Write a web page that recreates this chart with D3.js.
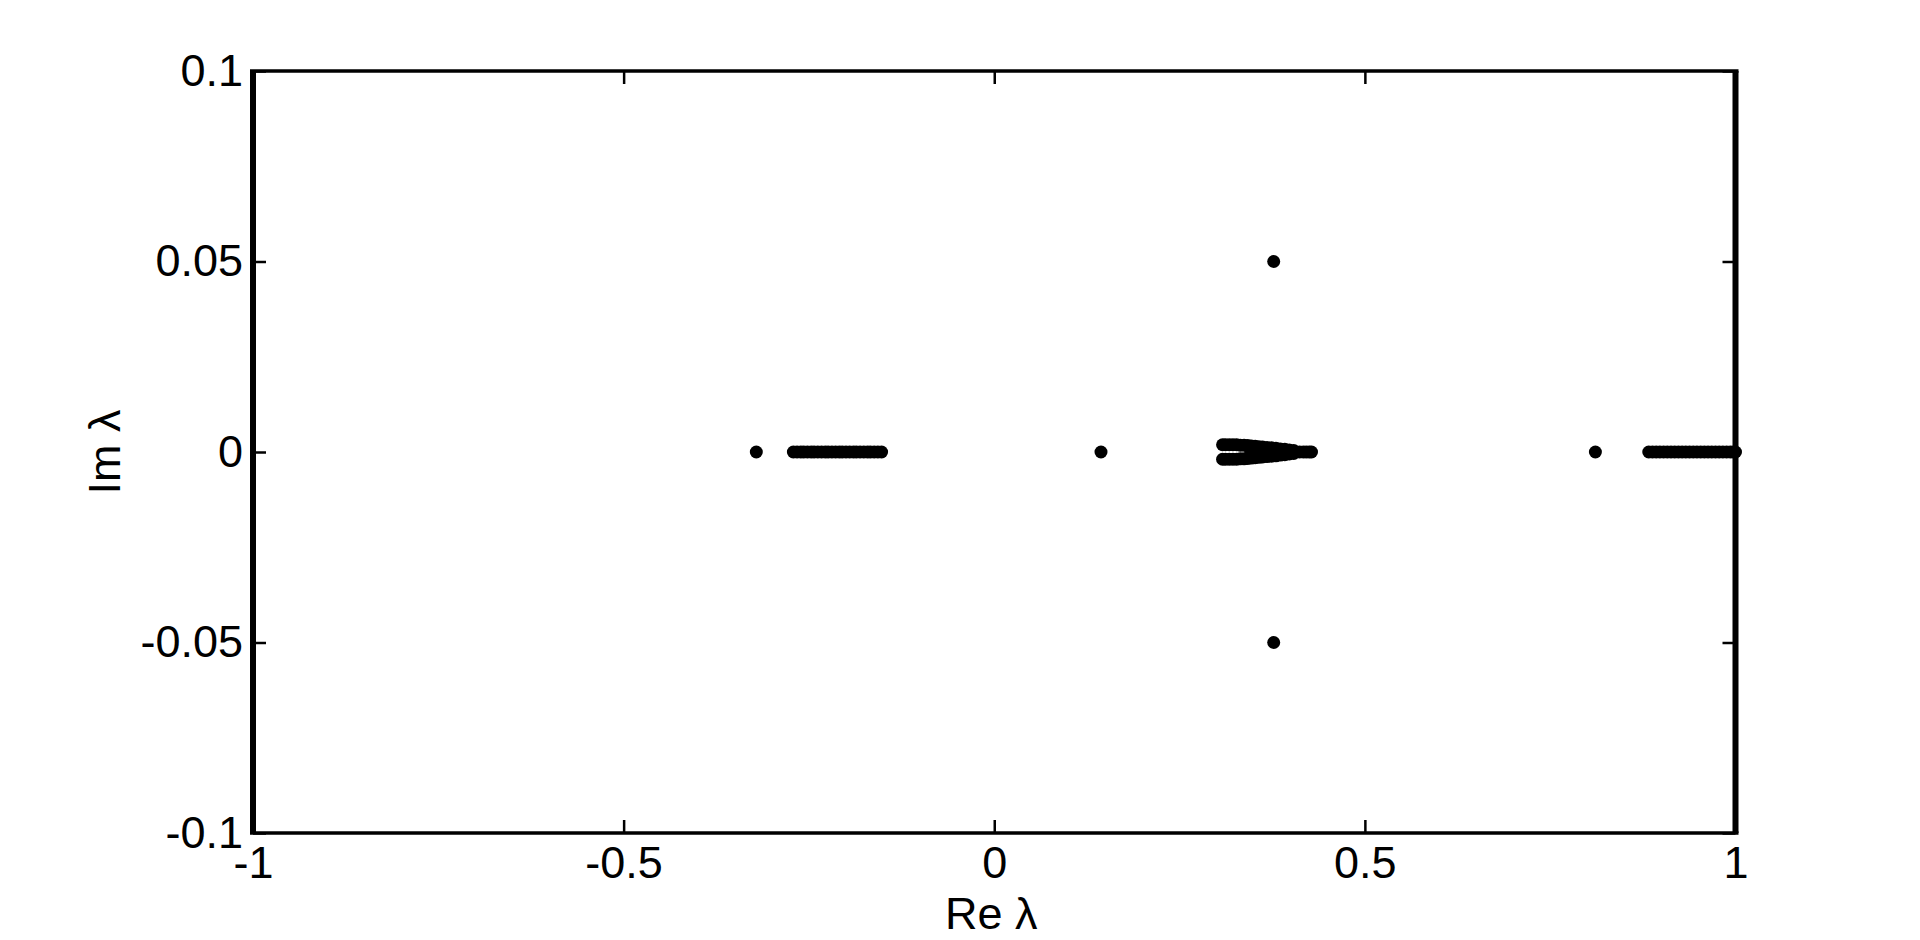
<!DOCTYPE html>
<html>
<head>
<meta charset="utf-8">
<script src="https://cdn.jsdelivr.net/npm/d3@7"></script>
<style>
  html, body { margin: 0; padding: 0; background: #fff; }
  svg { display: block; }
  .tick text { font-family: "Liberation Sans", Arial, sans-serif; font-size: 45px; fill: #000; }
  .axis-label { font-family: "Liberation Sans", Arial, sans-serif; font-size: 45px; fill: #000; }
</style>
</head>
<body>
<svg id="chart" width="1920" height="940"></svg>
<script>
// Tick values
const xTicks = [-1, -0.5, 0, 0.5, 1];
const yTicks = [-0.1, -0.05, 0, 0.05, 0.1];

const realLeft = [-0.321, -0.271, -0.266, -0.261, -0.257, -0.252, -0.247, -0.243, -0.238, -0.233,
  -0.228, -0.224, -0.219, -0.214, -0.209, -0.205, -0.200, -0.195, -0.190, -0.186, -0.181,
  -0.176, -0.171, -0.167, -0.162, -0.157, -0.152];
const realMiddle = [0.144, 0.346, 0.352, 0.358, 0.364, 0.370, 0.376, 0.382, 0.388, 0.394, 0.400,
  0.406, 0.412, 0.417, 0.421, 0.425, 0.428];
const realRight = [0.811, 0.883, 0.888, 0.893, 0.898, 0.903, 0.908, 0.913, 0.918, 0.923, 0.928,
  0.933, 0.938, 0.943, 0.948, 0.953, 0.958, 0.963, 0.968, 0.973, 0.978, 0.983, 0.988,
  0.993, 0.997, 1.000];

// Complex eigenvalues (both members of each conjugate pair listed)
const complexRe = [0.377, 0.377,
  0.308, 0.312, 0.317, 0.322, 0.327, 0.332, 0.337, 0.342, 0.347, 0.352, 0.357, 0.362, 0.368, 0.374, 0.380, 0.386, 0.392, 0.398, 0.404,
  0.308, 0.312, 0.317, 0.322, 0.327, 0.332, 0.337, 0.342, 0.347, 0.352, 0.357, 0.362, 0.368, 0.374, 0.380, 0.386, 0.392, 0.398, 0.404];
const complexIm = [0.05, -0.05,
  0.0019, 0.0019, 0.0019, 0.0019, 0.0019, 0.0018, 0.0018, 0.0017, 0.0016, 0.0015, 0.0014, 0.0013, 0.0012, 0.0011, 0.0010, 0.0008, 0.0007, 0.0005, 0.0004,
  -0.0019, -0.0019, -0.0019, -0.0019, -0.0019, -0.0018, -0.0018, -0.0017, -0.0016, -0.0015, -0.0014, -0.0013, -0.0012, -0.0011, -0.0010, -0.0008, -0.0007, -0.0005, -0.0004];

const svg = d3.select('#chart');
const plotLeft = 253, plotRight = 1735.5, plotTop = 71, plotBottom = 833;
const TICK = 13;

const x = d3.scaleLinear().domain([-1, 1]).range([plotLeft, plotRight]);
const y = d3.scaleLinear().domain([-0.1, 0.1]).range([plotBottom, plotTop]);

const points = []
  .concat(realLeft.map(r => [r, 0]))
  .concat(realMiddle.map(r => [r, 0]))
  .concat(realRight.map(r => [r, 0]))
  .concat(complexRe.map((r, i) => [r, complexIm[i]]));

// Markers
svg.append('g')
  .selectAll('circle')
  .data(points)
  .join('circle')
  .attr('cx', d => x(d[0]))
  .attr('cy', d => y(d[1]))
  .attr('r', 6.5)
  .attr('fill', '#000');

const fmt = d => String(d);

// Bottom axis with labels
const gx = svg.append('g')
  .attr('transform', `translate(0,${plotBottom})`)
  .call(d3.axisBottom(x).tickValues(xTicks).tickFormat(fmt).tickSizeInner(-TICK).tickSizeOuter(0).tickPadding(13));
// Top mirror ticks
const gxt = svg.append('g')
  .attr('transform', `translate(0,${plotTop})`)
  .call(d3.axisTop(x).tickValues(xTicks).tickFormat('').tickSizeInner(-TICK).tickSizeOuter(0));
// Left axis with labels
const gy = svg.append('g')
  .attr('transform', `translate(${plotLeft},0)`)
  .call(d3.axisLeft(y).tickValues(yTicks).tickFormat(fmt).tickSizeInner(-TICK).tickSizeOuter(0).tickPadding(10));
// Right mirror ticks
const gyr = svg.append('g')
  .attr('transform', `translate(${plotRight},0)`)
  .call(d3.axisRight(y).tickValues(yTicks).tickFormat('').tickSizeInner(-TICK).tickSizeOuter(0));

[gx, gxt, gy, gyr].forEach(g => {
  g.select('.domain').remove();
  g.selectAll('.tick line').attr('stroke', '#000').attr('stroke-width', 2.5);
});

// Box frame
const frame = svg.append('g').attr('stroke', '#000').attr('fill', 'none');
frame.append('line').attr('x1', plotLeft - 3).attr('x2', plotRight + 3).attr('y1', plotTop).attr('y2', plotTop).attr('stroke-width', 3.5);
frame.append('line').attr('x1', plotLeft - 3).attr('x2', plotRight + 3).attr('y1', plotBottom).attr('y2', plotBottom).attr('stroke-width', 3.5);
frame.append('line').attr('x1', plotLeft).attr('x2', plotLeft).attr('y1', plotTop).attr('y2', plotBottom).attr('stroke-width', 6);
frame.append('line').attr('x1', plotRight).attr('x2', plotRight).attr('y1', plotTop).attr('y2', plotBottom).attr('stroke-width', 6);

// Axis labels
svg.append('text')
  .attr('class', 'axis-label')
  .attr('x', (plotLeft + plotRight) / 2 - 3)
  .attr('y', 929)
  .attr('text-anchor', 'middle')
  .text('Re λ');

svg.append('text')
  .attr('class', 'axis-label')
  .attr('transform', `translate(120,${(plotTop + plotBottom) / 2}) rotate(-90)`)
  .attr('text-anchor', 'middle')
  .text('Im λ');
</script>
</body>
</html>
